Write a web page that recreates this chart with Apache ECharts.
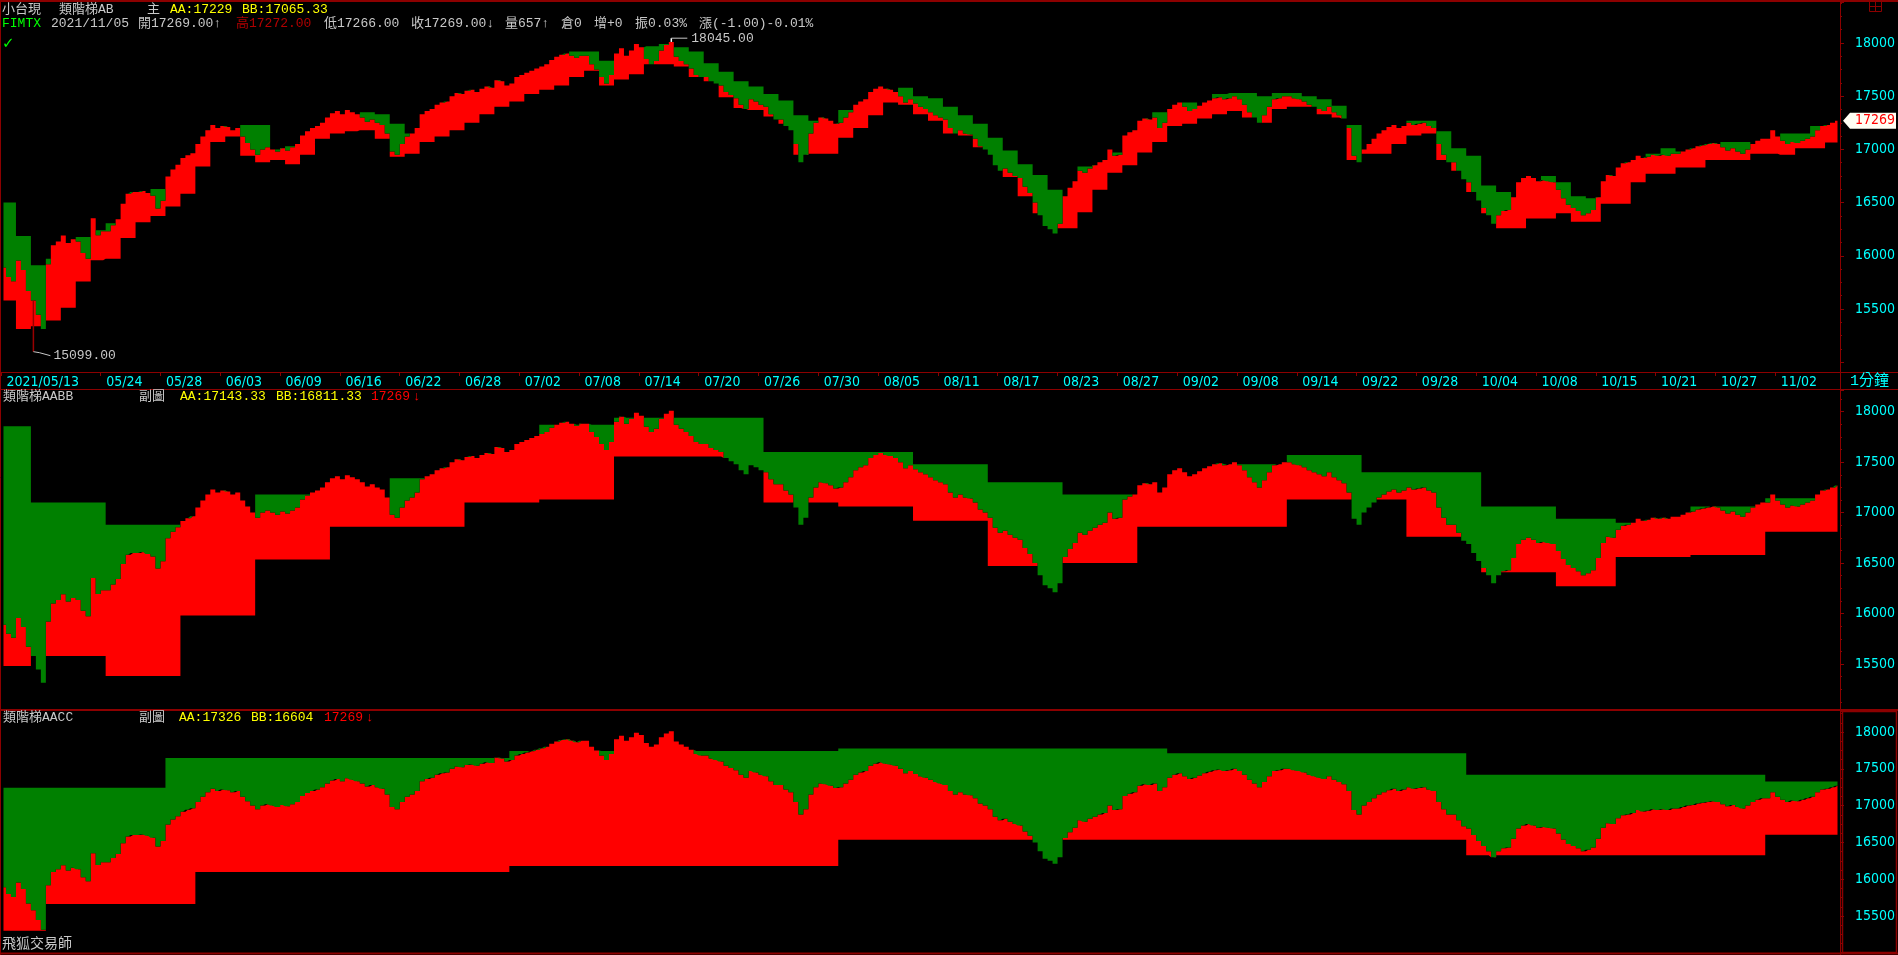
<!DOCTYPE html>
<html><head><meta charset="utf-8">
<script src="https://cdn.jsdelivr.net/npm/echarts@6/dist/echarts.min.js"></script>
<style>html,body{margin:0;padding:0;background:#000;overflow:hidden}#c{width:1898px;height:955px}</style>
</head><body><div id="c"></div>
<script>
// ---------------- DATA ----------------
const tradingDays = ['05/13','05/14','05/17','05/18','05/19','05/20','05/21','05/24','05/25','05/26','05/27','05/28','05/31','06/01','06/02','06/03','06/04','06/07','06/08','06/09','06/10','06/11','06/15','06/16','06/17','06/18','06/21','06/22','06/23','06/24','06/25','06/28','06/29','06/30','07/01','07/02','07/05','07/06','07/07','07/08','07/09','07/12','07/13','07/14','07/15','07/16','07/19','07/20','07/21','07/22','07/23','07/26','07/27','07/28','07/29','07/30','08/02','08/03','08/04','08/05','08/06','08/09','08/10','08/11','08/12','08/13','08/16','08/17','08/18','08/19','08/20','08/23','08/24','08/25','08/26','08/27','08/30','08/31','09/01','09/02','09/03','09/06','09/07','09/08','09/09','09/10','09/13','09/14','09/15','09/16','09/17','09/22','09/23','09/24','09/27','09/28','09/29','09/30','10/01','10/04','10/05','10/06','10/07','10/08','10/12','10/13','10/14','10/15','10/18','10/19','10/20','10/21','10/22','10/25','10/26','10/27','10/28','10/29','11/01','11/02','11/03','11/04','11/05'];
const firstLabel = '2021/05/13';
const tickDates = ['05/24','05/28','06/03','06/09','06/16','06/22','06/28','07/02','07/08','07/14','07/20','07/26','07/30','08/05','08/11','08/17','08/23','08/27','09/02','09/08','09/14','09/22','09/28','10/04','10/08','10/15','10/21','10/27','11/02'];
const slotsPerDay = 3;

// close price, 3 samples per trading day
const closePrice = [
15890,15800,15760, 15955,15866,15670, 15580,15446,15313, 15920,16100,16135, 16190,16120,16155,
16135,16027,15973, 16352,16194,16231, 16231,16287,16343, 16490,16582,16600, 16600,16609,16590,
16564,16445,16518, 16745,16810,16855, 16918,16945,16964, 17050,17120,17180, 17230,17200,17220,
17210,17180,17200, 17120,17060,17000, 16950,17000,17020, 17000,16980,17010, 16990,17020,17050,
17130,17170,17200, 17220,17250,17300, 17340,17360,17330, 17370,17350,17330, 17300,17260,17280,
17250,17230,17150, 16980,16950,17050, 17120,17150,17200, 17330,17360,17380, 17420,17440,17450,
17500,17530,17520, 17550,17560,17540, 17570,17590,17580, 17650,17640,17600, 17620,17680,17700,
17720,17740,17760, 17780,17800,17840, 17870,17890,17900, 17880,17860,17880, 17880,17800,17750,
17680,17620,17700, 17900,17950,17880, 17930,17990,17960, 17850,17800,17830, 17930,17980,18010,
17870,17830,17800, 17760,17700,17680, 17680,17640,17620, 17600,17540,17510, 17480,17420,17380,
17470,17450,17420, 17400,17330,17280, 17280,17220,17180, 17050,16880,16950, 17150,17250,17300,
17290,17270,17240, 17250,17300,17350, 17420,17450,17470, 17540,17570,17590, 17570,17560,17540,
17500,17440,17470, 17430,17400,17380, 17350,17320,17300, 17280,17200,17150, 17180,17150,17140,
17100,17030,17000, 16950,16850,16800, 16820,16780,16750, 16730,16650,16590, 16500,16380,16280,
16250,16210,16300, 16560,16640,16700, 16800,16780,16820, 16850,16880,16900, 17000,16940,16950,
17130,17160,17180, 17270,17290,17280, 17300,17200,17250, 17380,17420,17440, 17400,17360,17380,
17410,17440,17460, 17480,17490,17470, 17480,17500,17470, 17420,17350,17300, 17250,17320,17400,
17470,17480,17500, 17500,17480,17470, 17450,17420,17400, 17380,17360,17400, 17350,17320,17290,
17200,16940,16880, 17000,17050,17100, 17150,17180,17210, 17230,17200,17220, 17250,17230,17240,
17250,17220,17200, 17050,16950,16880, 16880,16800,16720, 16690,16600,16520, 16450,16380,16300,
16380,16420,16430, 16550,16690,16730, 16750,16730,16700, 16710,16700,16690, 16620,16540,16480,
16450,16420,16380, 16400,16430,16550, 16700,16760,16750, 16830,16870,16880, 16900,16940,16920,
16930,16950,16940, 16950,16940,16960, 16960,16980,17000, 17010,17030,17040, 17050,17060,17050,
17020,16990,17010, 16980,16960,17000, 17050,17080,17100, 17100,17180,17120, 17080,17050,17070,
17060,17080,17100, 17120,17180,17220, 17230,17250,17269
];

// 類階梯AB (main chart): one AA / BB level per trading day
const abAA = [16500,16185,15911,15973,16100,16176,16240,16305,16300,16500,16627,16600,16800,16900,17100,17150,17230,17230,17000,17030,
17000,17100,17200,17250,17350,17330,17240,17150,17200,17300,17400,17450,17500,17550,17600,17650,17700,17800,17920,17920,
17833,17800,17850,17970,17990,17960,17920,17810,17730,17640,17590,17520,17460,17320,17270,17200,17370,17300,17450,17500,
17580,17500,17480,17400,17320,17240,17110,16990,16860,16760,16620,16500,16840,16800,16970,17110,17100,17350,17300,17440,
17400,17520,17530,17530,17500,17530,17530,17500,17470,17410,17230,17000,17100,17150,17270,17270,17170,17010,16940,16660,
16600,16550,16700,16750,16690,16560,16540,16600,16700,16900,16960,17010,16980,17000,17050,17070,17070,17000,17050,17150,
17150,17220,17229];
const abBB = [15580,15313,15339,15393,15512,15759,15958,15973,16167,16315,16373,16463,16582,16840,17070,17120,16940,16880,16900,16860,
16950,17100,17150,17170,17180,17100,16930,16960,17070,17120,17180,17250,17330,17400,17450,17520,17560,17600,17680,17740,
17600,17657,17706,17800,17800,17780,17680,17640,17490,17390,17370,17310,17240,16950,16960,16960,17110,17200,17320,17440,
17420,17330,17270,17150,17130,17020,16950,16740,16560,16400,16260,16260,16410,16620,16780,16850,16970,17070,17220,17240,
17290,17330,17360,17300,17250,17380,17400,17400,17330,17300,16900,16960,16960,17050,17130,17150,16900,16800,16600,16400,
16260,16260,16350,16350,16400,16320,16320,16490,16490,16690,16770,16770,16830,16830,16900,16900,16900,16960,16960,16950,
17010,17010,17065.33];

// 類階梯AABB (sub chart 1): weekly levels
const aabbStart = ['05/13','05/17','05/24','05/31','06/07','06/15','06/21','06/28','07/05','07/12','07/19','07/26','08/02','08/09','08/16','08/23','08/30','09/06','09/13','09/22','09/27','10/04','10/12','10/18','10/25','11/01'];
const aabbAA = [17856,17100,16880,16900,17180,17000,17340,17300,17870,17940,17940,17600,17600,17480,17300,17180,17200,17480,17570,17400,17400,17060,16940,16900,17060,17143.33];
const aabbBB = [15480,15580,15380,15980,16535,16860,16860,17100,17130,17555,17555,17100,17060,16920,16470,16500,16860,16860,17130,17130,16760,16410,16270,16560,16580,16811.33];

// 類階梯AACC (sub chart 2): monthly levels
const aaccAAStart = ['05/13','05/28','07/01','08/02','09/01','10/01','11/01'];
const aaccAA = [17243,17646,17742,17775,17710,17420,17326];
const aaccBBStart = ['05/13','05/18','06/01','07/01','08/02','09/01','10/01','11/01'];
const aaccBB = [15300,15663,16100,16180,16535,16535,16325,16604];

const lowMark = {date:'05/17', sub:0, value:15099, text:'15099.00'};
const highMark = {date:'07/15', sub:2, value:18045, text:'18045.00'};
const lastPrice = 17269;

// ---------------- BUILD ----------------
const BORDER = '#8c0000', RED = '#ff0000', GREEN = '#008000', CYAN = '#00ffff';
const GRAY = '#c8c8c8', YEL = '#ffff00', LIME = '#00ff00', DKRED = '#b00000';
const FONT = '"Liberation Mono","Noto Sans CJK TC",monospace';
const AXFONT = '"Liberation Sans Narrow","DejaVu Sans Condensed","Liberation Mono",monospace';
const nSlots = tradingDays.length * slotsPerDay;
const categories = [];
tradingDays.forEach(d => { for (let j = 0; j < slotsPerDay; j++) categories.push(d + '#' + j); });
const labelAt = {};
labelAt[0] = firstLabel;
tickDates.forEach(d => { const i = tradingDays.indexOf(d) * slotsPerDay - 1; labelAt[i] = d; });

const dayOf = i => Math.floor(i / slotsPerDay);
const perDay = arr => categories.map((_, i) => arr[dayOf(i)]);
const runs = (starts, vals) => {
  const idx = starts.map(s => tradingDays.indexOf(s));
  return categories.map((_, i) => { const d = dayOf(i); let k = 0; for (let m = 0; m < idx.length; m++) if (idx[m] <= d) k = m; return vals[k]; });
};

function ladderSeries(g, AA, BB) {
  const base = [], red = [], green = [];
  for (let i = 0; i < nSlots; i++) {
    const c = closePrice[i];
    base.push(c >= BB[i] ? BB[i] : c);
    red.push(c >= BB[i] ? +(c - BB[i]).toFixed(2) : 0);
    green.push(AA[i] > c ? +(AA[i] - c).toFixed(2) : 0);
  }
  const common = {type:'line', xAxisIndex:g, yAxisIndex:g, stack:'s' + g, step:'middle', symbol:'none', showSymbol:false,
    lineStyle:{width:0, opacity:0}, silent:true, animation:false};
  return [
    Object.assign({}, common, {name:'base' + g, data: base}),
    Object.assign({}, common, {name:'red' + g, data: red, areaStyle:{color: RED, opacity:1}}),
    Object.assign({}, common, {name:'green' + g, data: green, areaStyle:{color: GREEN, opacity:1}})
  ];
}

function yAx(g, min, max) {
  return {type:'value', gridIndex:g, position:'right', min, max, minInterval:500, maxInterval:500, splitNumber:6,
    axisLine:{show:true, lineStyle:{color:BORDER}},
    axisTick:{show:true, length:4, lineStyle:{color:BORDER}},
    minorTick:{show:true, splitNumber:4, length:2, lineStyle:{color:BORDER}},
    splitLine:{show:false}, minorSplitLine:{show:false},
    axisLabel:{color:CYAN, fontFamily:AXFONT, fontSize:14, margin:15,
      formatter: v => (Math.abs(v % 500) < 1e-6 && v >= 15500 && v <= 18000) ? String(v) : ''}};
}

const xCommon = g => ({type:'category', gridIndex:g, data:categories, boundaryGap:true});
const gridCommon = {outerBoundsMode:'none', containLabel:false};
const option = {
  backgroundColor:'#000', animation:false,
  grid:[Object.assign({left:1, top:2, width:1839, height:370}, gridCommon),
        Object.assign({left:1, top:390, width:1839, height:319}, gridCommon),
        Object.assign({left:1, top:711, width:1839, height:241}, gridCommon)],
  xAxis:[
    Object.assign(xCommon(0), {position:'bottom',
      axisLine:{show:true, lineStyle:{color:BORDER}},
      axisTick:{show:true, length:4, interval:(i) => labelAt[i] !== undefined, lineStyle:{color:BORDER}},
      axisLabel:{show:true, interval:(i) => labelAt[i] !== undefined, formatter:(v, i) => labelAt[i] || '',
        color:CYAN, fontFamily:AXFONT, fontSize:14, align:'left', margin:3, padding:[0,0,0,3]}}),
    Object.assign(xCommon(1), {show:false}),
    Object.assign(xCommon(2), {show:false})
  ],
  yAxis:[yAx(0, 14908, 18385), yAx(1, 15054, 18215), yAx(2, 15012, 18285)],
  series:[].concat(
    ladderSeries(0, perDay(abAA), perDay(abBB)),
    ladderSeries(1, runs(aabbStart, aabbAA), runs(aabbStart, aabbBB)),
    ladderSeries(2, runs(aaccAAStart, aaccAA), runs(aaccBBStart, aaccBB))
  )
};

const chart = echarts.init(document.getElementById('c'), null, {renderer:'canvas'});
chart.setOption(option);

// ---------------- OVERLAY TEXT / FRAME ----------------
const G = [];
const line = (x1, y1, x2, y2, c, w) => G.push({type:'line', silent:true, z:50, shape:{x1, y1, x2, y2}, style:{stroke:c || BORDER, lineWidth:w || 1}});
const txt = (x, y, t, c, f) => G.push({type:'text', silent:true, z:60, x, y, style:{text:t, fill:c, font:f || ('13px ' + FONT), align:'left', verticalAlign:'middle'}});

// frame
line(0, 1, 1898, 1, BORDER, 2);
line(0.5, 0, 0.5, 955);
line(1840.5, 0, 1840.5, 955);
line(0, 372.5, 1898, 372.5);
line(0, 389.5, 1898, 389.5);
line(0, 710, 1898, 710, BORDER, 2);
line(0, 953.5, 1898, 953.5, BORDER, 2);
G.push({type:'rect', silent:true, z:50, shape:{x:1842.5, y:711.5, width:54, height:241}, style:{fill:null, stroke:BORDER, lineWidth:1.5}});
// small icon top-right
G.push({type:'rect', silent:true, z:50, shape:{x:1869.5, y:1.5, width:12, height:10}, style:{fill:null, stroke:BORDER, lineWidth:1}});
line(1869.5, 6.5, 1881.5, 6.5); line(1875.5, 1.5, 1875.5, 11.5);
txt(1850, 381, '1分鐘', CYAN, '15px ' + FONT);

// titles
[[2,'小台現',GRAY],[59,'類階梯AB',GRAY],[147,'主',GRAY],[170,'AA:17229',YEL],[242,'BB:17065.33',YEL]].forEach(s => txt(s[0], 10, s[1], s[2]));
[[2,'FIMTX',LIME],[51,'2021/11/05',GRAY],[138,'開17269.00↑',GRAY],[236,'高17272.00',DKRED],[324,'低17266.00',GRAY],[411,'收17269.00↓',GRAY],
 [505,'量657↑',GRAY],[561,'倉0',GRAY],[594,'增+0',GRAY],[635,'振0.03%',GRAY],[699,'漲(-1.00)-0.01%',GRAY]].forEach(s => txt(s[0], 24, s[1], s[2]));
txt(2, 44, '✓', LIME, 'bold 15px "DejaVu Sans"');
[[3,'類階梯AABB',GRAY],[139,'副圖',GRAY],[180,'AA:17143.33',YEL],[276,'BB:16811.33',YEL],[371,'17269',RED],[413,'↓',RED]].forEach(s => txt(s[0], 397, s[1], s[2]));
[[3,'類階梯AACC',GRAY],[139,'副圖',GRAY],[179,'AA:17326',YEL],[251,'BB:16604',YEL],[324,'17269',RED],[366,'↓',RED]].forEach(s => txt(s[0], 718, s[1], s[2]));
txt(2, 944, '飛狐交易師', GRAY, '14px ' + FONT);

// extreme marks via the chart's own scales
const px = (g, slot, v) => chart.convertToPixel({gridIndex:g}, [slot, v]);
{
  const s = tradingDays.indexOf(lowMark.date) * slotsPerDay + lowMark.sub;
  const a = px(0, s, closePrice[s]), b = px(0, s, lowMark.value);
  line(b[0], a[1], b[0], b[1], '#990000', 1.5);
  line(b[0], b[1], b[0] + 6, b[1] + 1, GRAY); line(b[0] + 6, b[1] + 1, b[0] + 17, b[1] + 4, GRAY);
  txt(b[0] + 20, b[1] + 4, lowMark.text, GRAY);
}
{
  const s = tradingDays.indexOf(highMark.date) * slotsPerDay + highMark.sub;
  const a = px(0, s, closePrice[s]), b = px(0, s, highMark.value);
  line(b[0], a[1], b[0], b[1], '#ffffff', 1.5);
  line(b[0], b[1], b[0] + 16, b[1], GRAY);
  txt(b[0] + 20, b[1], highMark.text, GRAY);
}
{
  const y = px(0, nSlots - 1, lastPrice)[1];
  G.push({type:'polygon', silent:true, z:55, shape:{points:[[1843, y], [1850, y - 8], [1896, y - 8], [1896, y + 8], [1850, y + 8]]}, style:{fill:'#fffff4'}});
  G.push({type:'text', silent:true, z:60, x:1855, y, style:{text:String(lastPrice), fill:RED, font:'14px ' + AXFONT, align:'left', verticalAlign:'middle'}});
}
chart.setOption({graphic: G});
</script>
</body></html>
